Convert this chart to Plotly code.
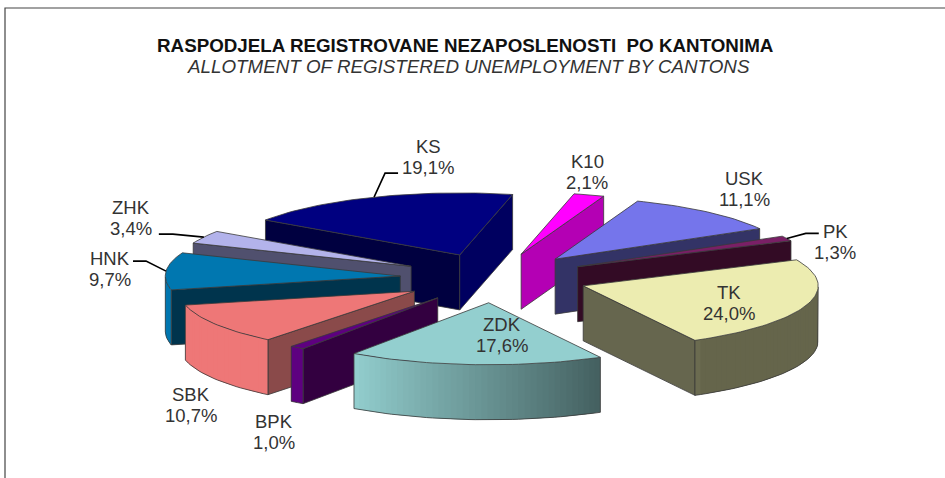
import math
import plotly.graph_objects as go

# ---- data ----
cantons = ["K10", "USK", "PK", "TK", "ZDK", "BPK", "SBK", "HNK", "ZHK", "KS"]
shares = [2.1, 11.1, 1.3, 24.0, 17.6, 1.0, 10.7, 9.7, 3.4, 19.1]
share_labels = ["2,1%", "11,1%", "1,3%", "24,0%", "17,6%", "1,0%", "10,7%", "9,7%", "3,4%", "19,1%"]
title_main = "RASPODJELA REGISTROVANE NEZAPOSLENOSTI  PO KANTONIMA"
title_sub = "ALLOTMENT OF REGISTERED UNEMPLOYMENT BY CANTONS"

# ---- styles ----
top_colors = ["#FF00FF", "#7575EB", "#7A1F66", "#ECECB0", "#93CFCF",
              "#5E0080", "#EE7777", "#0077B0", "#B3B3EB", "#000080"]
start_wall = ["#B400B4", "#333366", "#330B25", "#66664E", "#456B6B",
              "#330040", "#8A4A4A", "#00344D", "#50506E", "#000040"]
end_wall = ["#B400B4", "#333366", "#330B25", "#66664E", "#456B6B",
            "#330040", "#8A4A4A", "#00344D", "#50506E", "#000060"]

# ---- layout of the 3-D pie (pixels in the page) ----
CX, CY = 494, 278
RX, RY = 235, 62
DEPTH = 55
EXPLODE = 0.40
START_ANGLE = 13
EDGE = "#3A3A3A"
LINE_GAP = 21.5
FONT = "Liberation Sans"
label_pos = {"K10": (587, 172), "USK": (744, 189), "PK": (835, 242), "TK": (729, 303),
             "ZDK": (502, 335), "BPK": (274, 432), "SBK": (191, 405), "HNK": (110, 269),
             "ZHK": (131, 218), "KS": (428, 157)}
# leader line: offsets of elbow and end from the arc midpoint
leaders = {"KS": [(11, -24), (24, -24)], "ZHK": [(-31, -3), (-45, -3)],
           "HNK": [(-20, -10), (-33, -10)], "PK": [(19, -5), (32, -5)]}


def pt(apex, theta, r=1.0):
    t = math.radians(theta)
    return (apex[0] + r * RX * math.sin(t), apex[1] - r * RY * math.cos(t))


def rgb(hexc, k):
    h = hexc.lstrip("#")
    return "rgb(%d,%d,%d)" % tuple(int(int(h[i:i + 2], 16) * k) for i in (0, 2, 4))


def shade(theta):
    th = theta % 360
    if th < 150:
        return 0.43
    if th < 215:
        return 0.45 + 0.55 * (th - 150) / 65
    return 1.0


fig = go.Figure()


def poly(pts, fill, line=None, width=0.8):
    xs = [p[0] for p in pts] + [pts[0][0]]
    ys = [p[1] for p in pts] + [pts[0][1]]
    fig.add_trace(go.Scatter(x=xs, y=ys, mode="lines", fill="toself", fillcolor=fill,
                             line=dict(color=line or fill, width=width if line else 0),
                             hoverinfo="skip", showlegend=False))


total = sum(shares)
slices = []
a = START_ANGLE
for i, v in enumerate(shares):
    sweep = 360 * v / total
    slices.append((i, a, a + sweep))
    a += sweep

anchors = {}


def depth_key(s):
    return -math.cos(math.radians((s[1] + s[2]) / 2))


for i, a1, a2 in sorted(slices, key=depth_key):
    mid = (a1 + a2) / 2
    apex = pt((CX, CY), mid, EXPLODE)
    anchors[cantons[i]] = pt(apex, mid)

    # radial walls facing the viewer
    if math.cos(math.radians(a1 - 90)) < 0:
        e = pt(apex, a1)
        poly([apex, e, (e[0], e[1] + DEPTH), (apex[0], apex[1] + DEPTH)], start_wall[i], EDGE)
    if math.cos(math.radians(a2 + 90)) < 0:
        e = pt(apex, a2)
        poly([apex, e, (e[0], e[1] + DEPTH), (apex[0], apex[1] + DEPTH)], end_wall[i], EDGE)

    # outer rim, shaded strip by strip (each strip runs under the next to hide seams)
    n = max(2, int((a2 - a1) / 1.5))
    angs = [a1 + (a2 - a1) * k / n for k in range(n + 1)]
    vis = [t for t in angs if 90 <= (t % 360) <= 270]
    if len(vis) >= 2:
        for k in range(len(vis) - 1):
            t1, t2 = vis[k], vis[min(k + 2, len(vis) - 1)]
            p1, p2 = pt(apex, t1), pt(apex, t2)
            poly([p1, p2, (p2[0], p2[1] + DEPTH), (p1[0], p1[1] + DEPTH)],
                 rgb(top_colors[i], shade((vis[k] + vis[k + 1]) / 2)))
        up = [pt(apex, t) for t in vis]
        low = [(p[0], p[1] + DEPTH) for p in up]
        outline = [up[0]] + low + [up[-1]]
        fig.add_trace(go.Scatter(x=[p[0] for p in outline], y=[p[1] for p in outline],
                                 mode="lines", line=dict(color=EDGE, width=0.8),
                                 hoverinfo="skip", showlegend=False))

    # top face
    poly([apex] + [pt(apex, t) for t in angs], top_colors[i], EDGE)

# leader lines
for name, off in leaders.items():
    ax, ay = anchors[name]
    fig.add_trace(go.Scatter(x=[ax] + [ax + o[0] for o in off], y=[ay] + [ay + o[1] for o in off],
                             mode="lines", line=dict(color="#000000", width=1.6),
                             hoverinfo="skip", showlegend=False))

# labels: two separately placed lines
for name, lab in zip(cantons, share_labels):
    x, y = label_pos[name]
    for txt, yy in ((name, y - LINE_GAP / 2), (lab, y + LINE_GAP / 2)):
        fig.add_annotation(x=x, y=yy, text=txt, showarrow=False,
                           xanchor="center", yanchor="middle",
                           font=dict(family=FONT, size=18.5, color="#333333"))

fig.add_annotation(x=465, y=45, text="<b>" + title_main + "</b>", showarrow=False,
                   font=dict(family=FONT, size=18.8, color="#111111"))
fig.add_annotation(x=468, y=66, text="<i>" + title_sub + "</i>", showarrow=False,
                   font=dict(family=FONT, size=18.8, color="#333333"))

# frame: left and top edges only
fig.add_shape(type="path", path="M 5 478 L 5 8 L 945 8",
              line=dict(color="#444444", width=1.2))

fig.update_layout(width=945, height=478, margin=dict(l=0, r=0, t=0, b=0),
                  paper_bgcolor="white", plot_bgcolor="white", showlegend=False,
                  xaxis=dict(range=[0, 945], visible=False, fixedrange=True),
                  yaxis=dict(range=[478, 0], visible=False, fixedrange=True))
fig.write_html("out.html", config={"displayModeBar": False},
               post_script="document.body.style.margin='0';document.body.style.overflow='hidden';")
